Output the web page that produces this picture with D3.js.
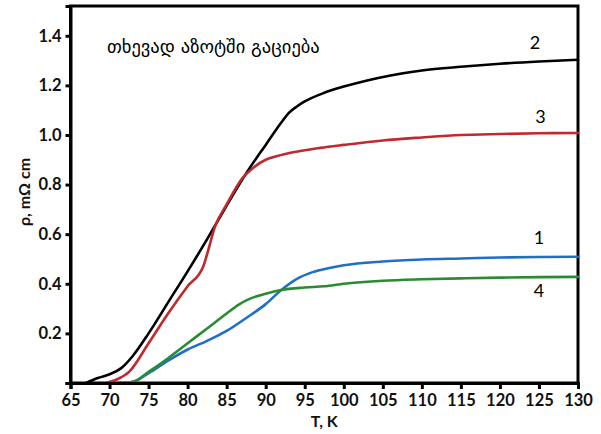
<!DOCTYPE html>
<html><head><meta charset="utf-8">
<script src="https://cdn.jsdelivr.net/npm/d3@7"></script>
<style>
html,body{margin:0;padding:0;background:#fff;}
svg{display:block;}
</style></head>
<body>
<svg id="chart" width="601" height="434"></svg>
<script>
// ---- data ----
const xTicks = [65,70,75,80,85,90,95,100,105,110,115,120,125,130];
const yTicks = [0,0.2,0.4,0.6,0.8,1.0,1.2,1.4];

const T2 = [67,68.5,70,71.5,73,75,77.5,80,82.5,85,87.5,90,92,93,94,95,97.5,100,103,106,110,115,120,125,130];
const V2 = [0,0.02,0.035,0.06,0.11,0.2,0.325,0.45,0.58,0.715,0.845,0.96,1.05,1.09,1.115,1.135,1.17,1.195,1.22,1.24,1.26,1.275,1.287,1.296,1.303];

const T3 = [69.5,71,72.5,75,77.5,80,82,82.5,83.5,85,87,88.5,90,91.5,93.5,97,100,105,110,115,120,125,130];
const V3 = [0,0.015,0.045,0.16,0.28,0.39,0.47,0.52,0.63,0.72,0.825,0.87,0.9,0.915,0.93,0.948,0.96,0.978,0.99,1.0,1.004,1.007,1.008];

const T1 = [71,73,75,77.5,80,82.5,85,87.5,90,92,94,96,98,100,105,110,115,120,125,130];
const V1 = [0,0.005,0.04,0.09,0.135,0.17,0.21,0.262,0.318,0.375,0.42,0.447,0.463,0.475,0.49,0.498,0.502,0.506,0.508,0.509];

const T4 = [71,73,75,77.5,80,82.5,85,86.5,88,90,92,95,97.5,100,105,110,115,120,125,130];
const V4 = [0,0.005,0.045,0.1,0.16,0.22,0.28,0.315,0.34,0.36,0.375,0.385,0.39,0.4,0.412,0.418,0.422,0.425,0.427,0.428];

const seriesNames = ["2","3","1","4"];
const seriesColors = ["#000000","#bf2a2e","#1f6fc4","#2a8b32"];
const seriesT = [T2,T3,T1,T4];
const seriesV = [V2,V3,V1,V4];
const labelPos = [[124.5,1.345],[125.2,1.05],[125,0.56],[125,0.345]];

const titleText = "თხევად აზოტში გაციება";
const xLabel = "T, K";
const yLabel = "ρ, mΩ cm";

// ---- layout ----
const svg = d3.select("#chart");
const L = 70.5, R = 578, T = 6, B = 383;
const x = d3.scaleLinear().domain([65,130]).range([L,R]);
const y = d3.scaleLinear().domain([0,1.52]).range([B,T]);

const font = "Lato, 'Open Sans', sans-serif";

// frame
svg.append("rect").attr("x",L).attr("y",T).attr("width",R-L).attr("height",B-T)
  .attr("fill","none").attr("stroke","#000").attr("stroke-width",3);

// curves
const line = d3.line().x(d=>x(d[0])).y(d=>y(d[1])).curve(d3.curveMonotoneX);
seriesT.forEach((ts,i)=>{
  const pts = ts.map((t,j)=>[t,seriesV[i][j]]);
  svg.append("path").attr("d",line(pts)).attr("fill","none")
    .attr("stroke",seriesColors[i]).attr("stroke-width",2.6)
    .attr("stroke-linejoin","round").attr("stroke-linecap","round");
});

// axes
const xAxis = svg.append("g").attr("transform",`translate(0,${B})`)
  .call(d3.axisBottom(x).tickValues(xTicks).tickSize(6).tickPadding(3).tickFormat(d3.format("d")));
const yAxis = svg.append("g").attr("transform",`translate(${L},0)`)
  .call(d3.axisLeft(y).tickValues(yTicks).tickSize(5).tickPadding(4)
    .tickFormat(d=> d===0 ? "" : d3.format(".1f")(d)));
[xAxis,yAxis].forEach(g=>{
  g.select(".domain").attr("stroke","#000").attr("stroke-width",3);
  g.selectAll(".tick line").attr("stroke","#000").attr("stroke-width",3);
  g.selectAll(".tick text").attr("fill","#111").style("font-family",font)
    .style("font-weight","bold").style("font-size","16.5px");
});
xAxis.selectAll(".tick text").attr("dy","0.85em");

// axis titles
svg.append("text").attr("x",(L+R)/2).attr("y",427).attr("text-anchor","middle")
  .style("font-family",font).style("font-weight","bold").style("font-size","16px")
  .attr("fill","#111").text(xLabel);
svg.append("text").attr("transform",`translate(30,${y(0.77)}) rotate(-90)`)
  .attr("text-anchor","middle")
  .style("font-family",font).style("font-weight","bold").style("font-size","16px")
  .attr("fill","#111").text(yLabel);

// title
svg.append("text").attr("x",107).attr("y",53)
  .style("font-family","'DejaVu Sans', sans-serif").style("font-size","18.5px")
  .attr("fill","#000").text(titleText);

// series labels
seriesNames.forEach((n,i)=>{
  svg.append("text").attr("x",x(labelPos[i][0])).attr("y",y(labelPos[i][1]))
    .attr("text-anchor","middle")
    .style("font-family",font).style("font-size","18px").attr("fill","#000").text(n);
});
</script>
</body></html>
